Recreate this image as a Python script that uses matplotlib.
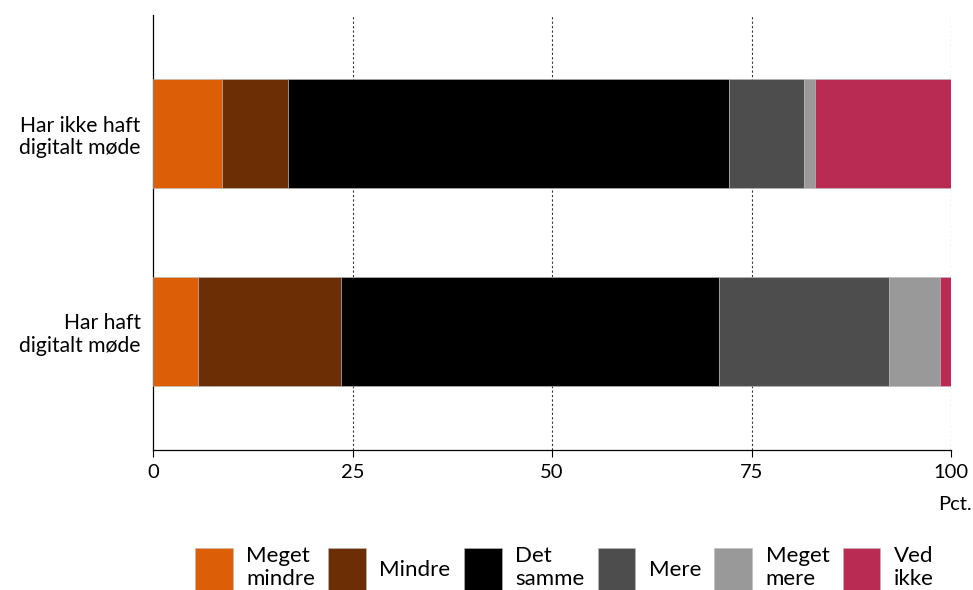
import matplotlib
matplotlib.use("Agg")
import matplotlib.pyplot as plt
import numpy as np

plt.rcParams['font.family'] = ['Lato', 'DejaVu Sans']

groups = ["Har ikke haft\ndigitalt møde", "Har haft\ndigitalt møde"]
categories = ["Meget\nmindre", "Mindre", "Det\nsamme", "Mere", "Meget\nmere", "Ved\nikke"]
meget_mindre = [8.7, 5.6]
mindre = [8.2, 17.9]
det_samme = [55.3, 47.4]
mere = [9.4, 21.3]
meget_mere = [1.4, 6.4]
ved_ikke = [17.0, 1.4]
series = [meget_mindre, mindre, det_samme, mere, meget_mere, ved_ikke]
colors = ["#DC5F08", "#6C2E05", "#000000", "#4D4D4D", "#999999", "#B92B52"]
x_ticks = [0, 25, 50, 75, 100]

FS = 14.5

fig = plt.figure(figsize=(9.73, 5.9), dpi=100)
ax = fig.add_axes([153/973, 1 - 450/590, 798/973, 435/590])

y = np.arange(len(groups))
left = np.zeros(len(groups))
for vals, col, lab in zip(series, colors, categories):
    ax.barh(y, vals, left=left, height=0.55, color=col, label=lab,
            edgecolor="#bbbbbb", linewidth=0.4, zorder=3)
    left += np.array(vals)

ax.set_xlim(0, 100)
ax.set_ylim(1.6, -0.6)
ax.set_yticks(y)
ax.set_yticklabels(groups, fontsize=15.2, linespacing=1.15)
ax.tick_params(axis='y', length=0, pad=9)
ax.set_xticks(x_ticks)
ax.set_xticklabels([str(t) for t in x_ticks], fontsize=FS)
ax.tick_params(axis='x', length=5, width=0.8, pad=5)

for t in x_ticks[1:]:
    ax.axvline(t, color="#333333", linestyle=(0, (2, 2)), linewidth=0.8, zorder=1)

for s in ["top", "right"]:
    ax.spines[s].set_visible(False)
ax.spines["left"].set_linewidth(0.9)
ax.spines["bottom"].set_linewidth(0.9)

fig.text(938/973, 1 - 505/590, "Pct.", fontsize=FS, ha="left", va="center")

leg = fig.legend(loc="upper left", bbox_to_anchor=(195/973, 1 - 546/590), ncol=6,
                 frameon=False, fontsize=16, handlelength=1.7, handleheight=2.5,
                 handletextpad=0.6, columnspacing=0.6, labelspacing=0.2,
                 borderpad=0, borderaxespad=0)
for txt in leg.get_texts():
    txt.set_linespacing(1.2)

fig.savefig("out.png", dpi=100)
